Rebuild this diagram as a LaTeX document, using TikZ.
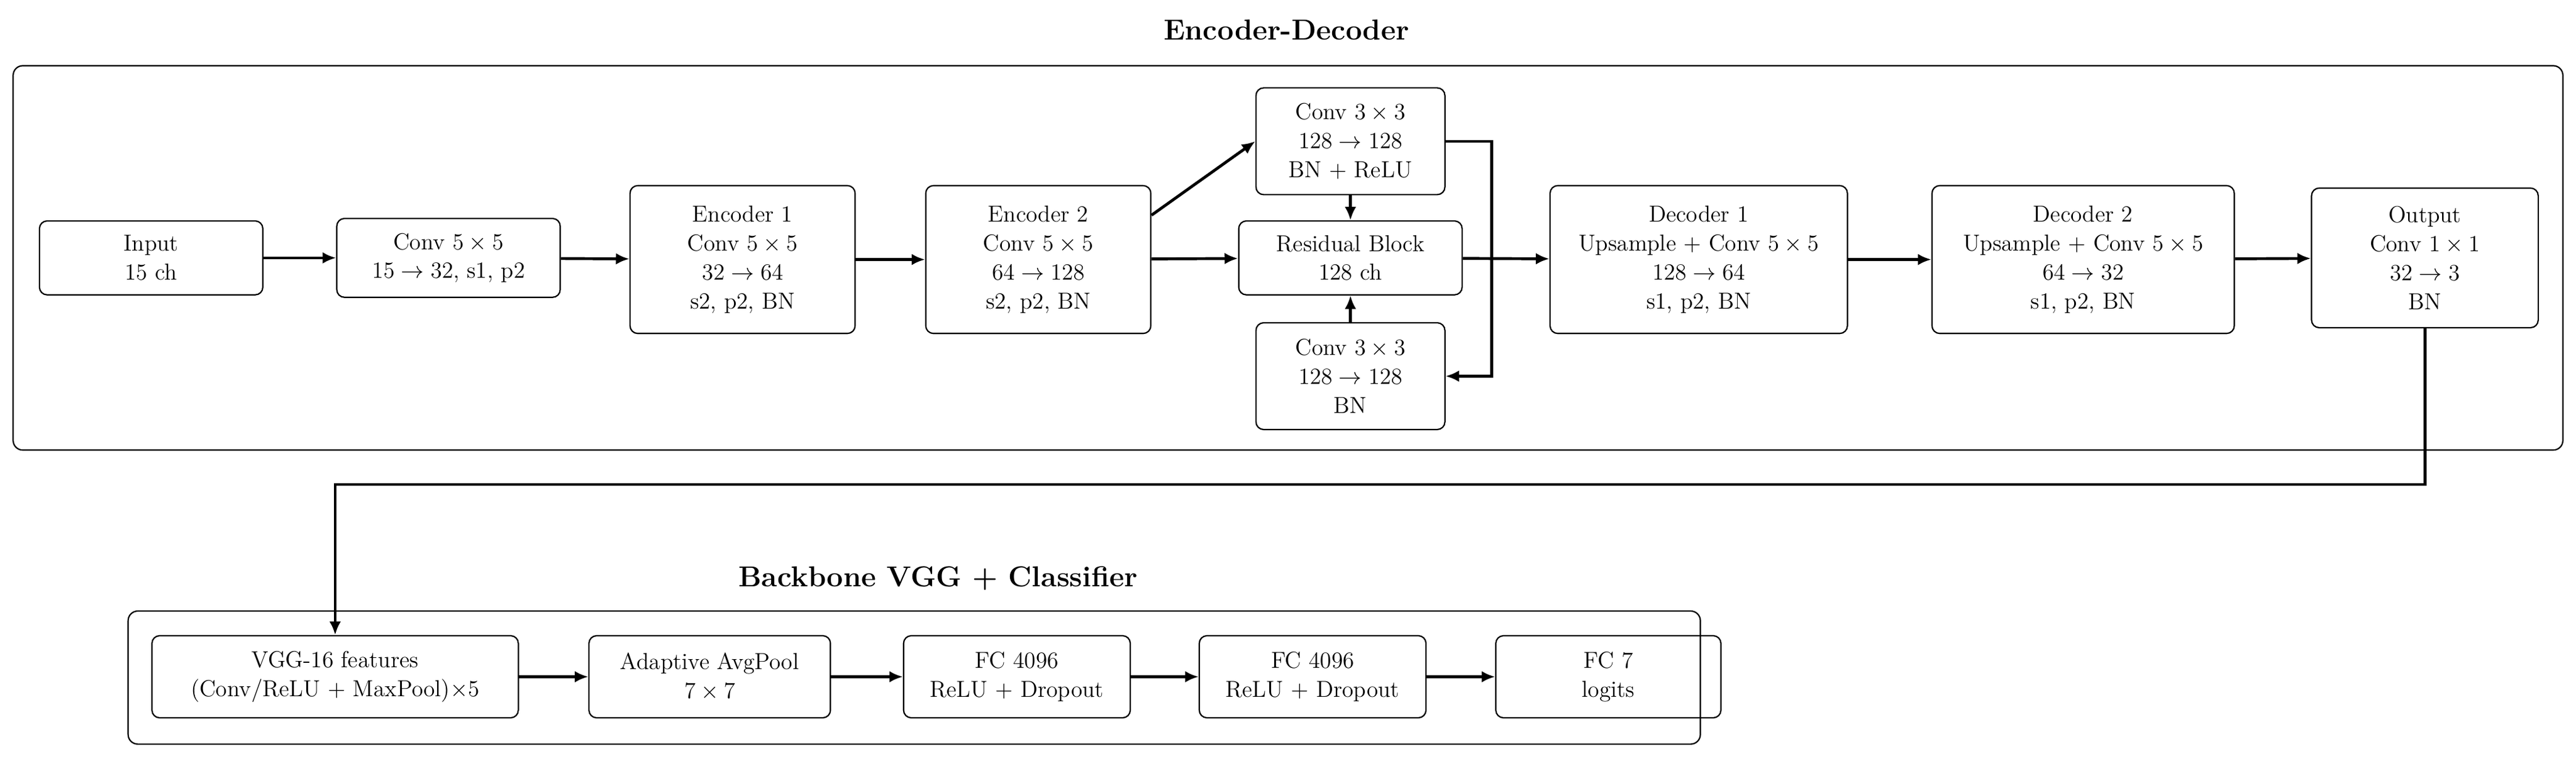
\documentclass[tikz,border=0pt]{standalone}
\usetikzlibrary{arrows.meta}
\begin{document}
\begin{tikzpicture}[x=0.03cm,y=-0.03cm,
  box/.style={draw,rounded corners=4pt,line width=0.7pt,align=center,inner sep=1pt,
    font=\fontsize{12}{15}\selectfont},
  frame/.style={draw,rounded corners=5pt,line width=0.7pt},
  arr/.style={-{Latex[length=7pt,width=6pt]},line width=1.5pt},
  ttl/.style={font=\fontsize{15}{18}\selectfont\bfseries}]
\useasboundingbox (0,0) rectangle (1568,463);
% frames
\draw[frame] (8,40) rectangle (1560,274);
\node[ttl] (t1) at (783,18) {Encoder-Decoder};
\draw[frame] (78,372) rectangle (1035,453);
\node[ttl] (t2) at (571,352) {Backbone VGG + Classifier};
% encoder-decoder nodes
\node[box,minimum width=136*0.03cm,minimum height=45*0.03cm] (in) at (92,157) {Input\\15 ch};
\node[box,minimum width=136*0.03cm,minimum height=48*0.03cm] (c5) at (273,157) {Conv $5\times5$\\$15\to32$, s1, p2};
\node[box,minimum width=137*0.03cm,minimum height=90*0.03cm] (e1) at (452,158) {Encoder 1\\Conv $5\times5$\\$32\to64$\\s2, p2, BN};
\node[box,minimum width=137*0.03cm,minimum height=90*0.03cm] (e2) at (632,158) {Encoder 2\\Conv $5\times5$\\$64\to128$\\s2, p2, BN};
\node[box,minimum width=115*0.03cm,minimum height=65*0.03cm] (ct) at (822,86) {Conv $3\times3$\\$128\to128$\\BN + ReLU};
\node[box,minimum width=136*0.03cm,minimum height=45*0.03cm] (rb) at (822,157) {Residual Block\\128 ch};
\node[box,minimum width=115*0.03cm,minimum height=65*0.03cm] (cb) at (822,229) {Conv $3\times3$\\$128\to128$\\BN};
\node[box,minimum width=181*0.03cm,minimum height=90*0.03cm] (d1) at (1034,158) {Decoder 1\\Upsample + Conv $5\times5$\\$128\to64$\\s1, p2, BN};
\node[box,minimum width=184*0.03cm,minimum height=90*0.03cm] (d2) at (1268,158) {Decoder 2\\Upsample + Conv $5\times5$\\$64\to32$\\s1, p2, BN};
\node[box,minimum width=138*0.03cm,minimum height=85*0.03cm] (out) at (1476,157) {Output\\Conv $1\times1$\\$32\to3$\\BN};
% backbone nodes
\node[box,minimum width=223*0.03cm,minimum height=50*0.03cm] (vgg) at (204,412) {VGG-16 features\\(Conv/ReLU + MaxPool)$\times5$};
\node[box,minimum width=147*0.03cm,minimum height=50*0.03cm] (ap) at (432,412) {Adaptive AvgPool\\$7\times7$};
\node[box,minimum width=138*0.03cm,minimum height=50*0.03cm] (fc1) at (619,412) {FC 4096\\ReLU + Dropout};
\node[box,minimum width=138*0.03cm,minimum height=50*0.03cm] (fc2) at (799,412) {FC 4096\\ReLU + Dropout};
\node[box,minimum width=137*0.03cm,minimum height=50*0.03cm] (fc7) at (979,412) {FC 7\\logits};
% arrows
\draw[arr] (in) -- (c5);
\draw[arr] (c5) -- (e1);
\draw[arr] (e1) -- (e2);
\draw[arr] (e2.east) ++(0,-27) coordinate (e2u) -- (ct.west);
\draw[arr] (e2) -- (rb);
\draw[arr] (ct) -- (rb);
\draw[arr] (cb) -- (rb);
\draw[arr] (ct.east) -- ++(28,0) |- (cb.east);
\draw[arr] (rb) -- (d1);
\draw[arr] (d1) -- (d2);
\draw[arr] (d2) -- (out);
\draw[arr] (out.south) -- ++(0,95) -| (vgg.north);
\draw[arr] (vgg) -- (ap);
\draw[arr] (ap) -- (fc1);
\draw[arr] (fc1) -- (fc2);
\draw[arr] (fc2) -- (fc7);
\end{tikzpicture}
\end{document}
